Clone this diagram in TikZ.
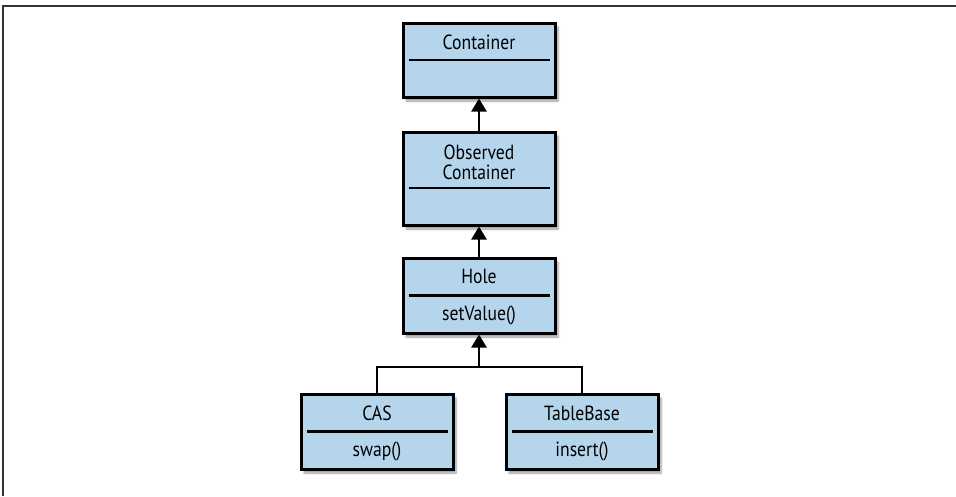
\documentclass[tikz,border=0pt]{standalone}
\usepackage{fontspec}
\setmainfont[FakeStretch=0.86]{PT Sans}
\usetikzlibrary{arrows.meta,shadows.blur}
\definecolor{clsfill}{HTML}{B4D5EB}
\tikzset{
  cls/.style={draw=black, line width=3pt, fill=clsfill, minimum width=152pt, inner sep=0pt,
    blur shadow={shadow xshift=3pt, shadow yshift=-4pt, shadow blur steps=6, shadow opacity=40}},
  lbl/.style={font=\fontsize{20.5}{22}\selectfont, inner sep=0pt, align=center},
  sep/.style={line width=2.3pt},
  inh/.style={line width=2.6pt, -{Triangle[width=15pt,length=13pt]}},
  link/.style={line width=2.6pt},
  frame/.style={line width=1.5pt, draw=black!80}
}
\begin{document}
\begin{tikzpicture}[x=1pt,y=-1pt]
\useasboundingbox (0,0) rectangle (956,496);
\draw[frame] (3,496) -- (3,6) -- (956,6);
% Container
\node[cls, minimum height=74pt] (cont) at (479,60) {};
\node[lbl] (contname) at (479,42) {Container};
\draw[sep] ([xshift=7pt]cont.west) -- ([xshift=-7pt]cont.east);
% Observed Container
\node[cls, minimum height=93pt] (obs) at (479,178.5) {};
\node[lbl] (obsname) at (479,162) {Observed\\[-2pt]Container};
\draw[sep] ([xshift=7pt,yshift=-9.5pt]obs.west) -- ([xshift=-7pt,yshift=-9.5pt]obs.east);
% Hole
\node[cls, minimum height=75pt] (hole) at (479,295.5) {};
\node[lbl] (holename) at (479,276) {Hole};
\node[lbl] (holeop) at (479,315) {setValue()};
\draw[sep] ([xshift=7pt]hole.west) -- ([xshift=-7pt]hole.east);
% CAS
\node[cls, minimum height=75pt] (cas) at (377,431.5) {};
\node[lbl] (casname) at (377,413) {CAS};
\node[lbl] (casop) at (377,451) {swap()};
\draw[sep] ([xshift=7pt]cas.west) -- ([xshift=-7pt]cas.east);
% TableBase
\node[cls, minimum height=75pt] (tb) at (582,431.5) {};
\node[lbl] (tbname) at (582,413) {TableBase};
\node[lbl] (tbop) at (582,451) {insert()};
\draw[sep] ([xshift=7pt]tb.west) -- ([xshift=-7pt]tb.east);
% connectors
\draw[inh] (obs.north) -- (cont.south);
\draw[inh] (hole.north) -- (obs.south);
\coordinate (junc) at (479,367);
\draw[link] (cas.north) |- (junc) -| (tb.north);
\draw[inh] (junc) -- (hole.south);
\end{tikzpicture}
\end{document}
